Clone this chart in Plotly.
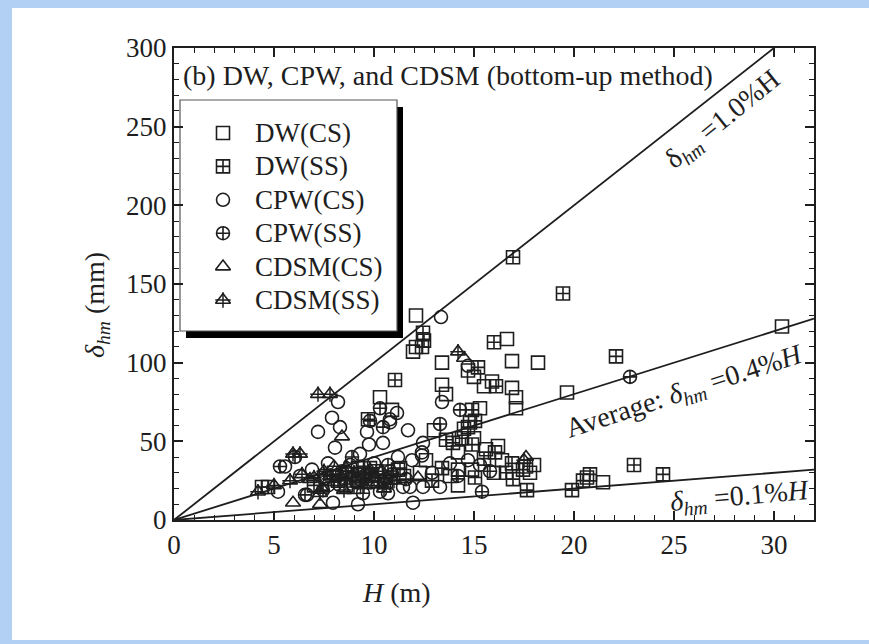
import plotly.graph_objects as go

# ---------------- data (H in m, delta_hm in mm) ----------------
dw_cs_H = [12.1, 11.95, 12.1, 13.4, 16.65, 16.9, 18.2, 13.4, 15.5, 16.9, 17.1, 17.1, 19.65, 15.3, 13.6,
           14.2, 14.2, 14.2, 14.9, 17.8, 21.45, 20.65, 30.4, 14.8, 15.6, 16.4, 15.0, 13.0, 12.6, 13.8,
           10.3, 10.9, 9.5, 10.2, 11.5, 12.3, 8.6, 16.0, 18.0, 17.6, 16.2, 14.5, 14.7, 15.0, 15.9,
           8.0, 9.2, 10.5, 11.2, 9.8]
dw_cs_d = [130, 107, 110, 100, 115, 101, 100, 86, 85, 84, 78, 71, 81, 71, 80,
           43, 32, 22, 32, 30, 24, 27, 123, 62, 45, 38, 52, 57, 38, 28,
           78, 70, 30, 25, 28, 30, 22, 30, 35, 34, 47, 58, 95, 91, 88,
           30, 25, 22, 32, 33]

dw_ss_H = [16.95, 19.45, 22.1, 23.0, 24.45, 19.9, 20.8, 20.45, 12.45, 12.4, 16.0, 11.05, 16.1, 15.2,
           14.9, 15.05, 14.7, 13.95, 16.05, 14.9, 16.9, 17.45, 16.95, 17.65, 15.05, 9.7, 4.4, 4.7,
           12.5, 13.6, 14.4, 15.5, 16.6, 11.3, 10.6, 9.9, 8.6, 7.6, 7.0, 12.9, 13.4, 9.2,
           8.2, 9.4, 10.1, 10.8, 9.0]
dw_ss_d = [167, 144, 104, 35, 29, 19, 29, 25, 119, 110, 113, 89, 85, 97,
           70, 63, 59, 49, 43, 48, 36, 32, 26, 19, 27, 64, 21, 21,
           114, 51, 52, 39, 30, 33, 24, 29, 27, 28, 22, 25, 33, 33,
           25, 27, 31, 27, 21]

cpw_cs_H = [13.35, 8.2, 7.9, 7.2, 8.3, 8.05, 9.65, 9.75, 11.15, 10.45, 10.8, 5.55, 5.2, 9.2, 10.7,
            6.65, 7.95, 11.7, 12.45, 11.2, 12.4, 11.8, 13.4, 12.4, 11.9, 14.7, 15.3, 12.45, 13.3,
            11.95, 11.45, 10.8, 14.7, 10.8, 9.3, 10.0, 8.7, 9.9, 6.3, 6.9, 7.7, 10.3, 12.9, 13.8,
            8.3, 9.5, 10.6, 7.5, 8.8]
cpw_cs_d = [129, 75, 65, 56, 59, 46, 56, 48, 68, 49, 62, 34, 18, 10, 17,
            16, 11, 57, 49, 40, 41, 21, 75, 43, 38, 38, 35, 21, 21,
            11, 21, 31, 98, 64, 42, 36, 30, 24, 28, 32, 36, 18, 30, 36,
            22, 30, 26, 26, 35]

cpw_ss_H = [22.8, 13.3, 15.4, 15.8, 14.3, 10.3, 8.9, 6.55, 7.45, 6.05, 9.8, 9.45, 10.45, 5.3,
            8.2, 9.1, 10.9, 7.7, 11.6, 14.2, 9.6, 8.4, 10.7]
cpw_ss_d = [91, 61, 18, 31, 70, 71, 40, 16, 19, 40, 63, 17, 59, 34,
            28, 24, 29, 22, 26, 28, 29, 31, 35]

cdsm_cs_H = [8.4, 14.5, 5.95, 7.3, 17.6, 8.0, 9.6, 10.4, 6.8, 12.2, 7.4]
cdsm_cs_d = [53, 103, 11, 10, 40, 34, 26, 31, 26, 27, 20]

cdsm_ss_H = [7.2, 7.8, 5.95, 4.2, 14.2, 17.5, 5.0, 5.8, 6.4, 7.0, 7.5, 8.0, 8.5, 9.0, 9.5, 10.0,
             10.5, 6.3, 11.0, 7.3, 8.9, 8.6, 9.8, 10.2, 7.8]
cdsm_ss_d = [80, 80, 42, 18, 107, 38, 22, 25, 29, 27, 31, 24, 19, 30, 22, 27,
             20, 42, 25, 17, 27, 33, 32, 24, 28]

# reference lines: delta_hm = ratio % of H  (H in m -> mm)
line_H = [0, 32]
ratios = [1.0, 0.4, 0.1]

x_ticks = [0, 5, 10, 15, 20, 25, 30]
y_ticks = [0, 50, 100, 150, 200, 250, 300]

legend_names = ["DW(CS)", "DW(SS)", "CPW(CS)", "CPW(SS)", "CDSM(CS)", "CDSM(SS)"]
legend_symbols = ["square-open", "square-cross-open", "circle-open", "circle-cross-open",
                  "triangle-up-open", "triangle-up-open"]
legend_rows = list(range(len(legend_names)))

INK = "#1e1e1e"
FONT = "Liberation Serif"
MS = 13

fig = go.Figure()

for r in ratios:
    fig.add_trace(go.Scatter(x=line_H, y=[h * 1000 * r / 100 for h in line_H], mode="lines",
                             line=dict(color=INK, width=1.8), showlegend=False, hoverinfo="skip"))

series = [
    (dw_cs_H, dw_cs_d), (dw_ss_H, dw_ss_d), (cpw_cs_H, cpw_cs_d),
    (cpw_ss_H, cpw_ss_d), (cdsm_cs_H, cdsm_cs_d), (cdsm_ss_H, cdsm_ss_d),
]
for (xs, ys), name, sym in zip(series, legend_names, legend_symbols):
    fig.add_trace(go.Scatter(x=xs, y=ys, mode="markers", name=name, showlegend=False,
                             marker=dict(symbol=sym, size=MS, color=INK,
                                         line=dict(color=INK, width=1.6))))
# plus sign inside the SS triangles
fig.add_trace(go.Scatter(x=cdsm_ss_H, y=cdsm_ss_d, mode="markers", showlegend=False,
                         marker=dict(symbol="cross-thin-open", size=11, color=INK,
                                     line=dict(color=INK, width=1.5))))

# legend keys on a small helper subplot
fig.add_trace(go.Scatter(x=[0.5] * len(legend_rows), y=legend_rows, mode="markers",
                         xaxis="x2", yaxis="y2", showlegend=False, hoverinfo="skip",
                         marker=dict(symbol=legend_symbols, size=MS, color=INK,
                                     line=dict(color=INK, width=1.6))))
fig.add_trace(go.Scatter(x=[0.5], y=[legend_rows[-1]], mode="markers",
                         xaxis="x2", yaxis="y2", showlegend=False, hoverinfo="skip",
                         marker=dict(symbol="cross-thin-open", size=11, color=INK,
                                     line=dict(color=INK, width=1.5))))


def px2paper_x(p):
    return (p - 174) / 640.0


def px2paper_y(p):
    return (520 - p) / 472.0


BLUE = "#b2cff4"
shapes = [
    # light-blue frame
    dict(type="rect", xref="paper", yref="paper", layer="below",
         x0=px2paper_x(-5), x1=px2paper_x(12), y0=px2paper_y(650), y1=px2paper_y(-5),
         fillcolor=BLUE, line=dict(width=0)),
    dict(type="rect", xref="paper", yref="paper", layer="below",
         x0=px2paper_x(-5), x1=px2paper_x(875), y0=px2paper_y(8), y1=px2paper_y(-5),
         fillcolor=BLUE, line=dict(width=0)),
    dict(type="rect", xref="paper", yref="paper", layer="below",
         x0=px2paper_x(-5), x1=px2paper_x(875), y0=px2paper_y(650), y1=px2paper_y(640),
         fillcolor=BLUE, line=dict(width=0)),
    # legend shadow
    dict(type="rect", xref="paper", yref="paper", layer="below",
         x0=px2paper_x(186), x1=px2paper_x(403), y0=px2paper_y(338), y1=px2paper_y(107),
         fillcolor="black", line=dict(width=0)),
    # legend box
    dict(type="rect", xref="paper", yref="paper", layer="below",
         x0=px2paper_x(180), x1=px2paper_x(397), y0=px2paper_y(331), y1=px2paper_y(100),
         fillcolor="white", line=dict(color="#555", width=1.2)),
]

annotations = [
    dict(text="(b) DW, CPW, and CDSM (bottom-up method)", xref="paper", yref="paper",
         x=px2paper_x(181), y=px2paper_y(76), xanchor="left", yanchor="middle", showarrow=False,
         font=dict(family=FONT, size=28, color=INK)),
    dict(text="δ<sub><i>hm</i></sub> =1.0%H", x=27.45, y=254, xref="x", yref="y",
         textangle=-39, showarrow=False, font=dict(family=FONT, size=28, color=INK)),
    dict(text="Average: <i>δ</i><sub><i>hm</i></sub> =0.4%<i>H</i>", x=25.55, y=81, xref="x", yref="y",
         textangle=-18, showarrow=False, font=dict(family=FONT, size=28, color=INK)),
    dict(text="<i>δ</i><sub><i>hm</i></sub> =0.1%<i>H</i>", x=28.3, y=14, xref="x", yref="y",
         textangle=-5, showarrow=False, font=dict(family=FONT, size=28, color=INK)),
    dict(text="<i>H</i> (m)", xref="paper", yref="paper", x=px2paper_x(396), y=px2paper_y(592),
         xanchor="center", yanchor="middle", showarrow=False,
         font=dict(family=FONT, size=28, color=INK)),
    dict(text="<i>δ</i><sub><i>hm</i></sub> (mm)", xref="paper", yref="paper",
         x=px2paper_x(96), y=px2paper_y(305), xanchor="center", yanchor="middle",
         textangle=-90, showarrow=False, font=dict(family=FONT, size=28, color=INK)),
]
for name, row in zip(legend_names, legend_rows):
    annotations.append(dict(text=name, xref="paper", yref="y2", x=px2paper_x(253), y=row,
                            xanchor="left", yanchor="middle", showarrow=False,
                            font=dict(family=FONT, size=27, color=INK)))

axis_common = dict(showgrid=False, zeroline=False, showline=True, linecolor=INK, linewidth=2,
                   mirror="ticks", ticks="inside", ticklen=9, tickwidth=1.5, tickcolor=INK,
                   tickfont=dict(family=FONT, size=27, color=INK))

row_top, row_step = 133.0, 33.4
y2_top = row_top - row_step / 2
y2_bot = row_top + row_step * (len(legend_rows) - 0.5)

fig.update_layout(
    width=869, height=644,
    margin=dict(l=174, r=55, t=48, b=124),
    paper_bgcolor="white",
    plot_bgcolor="white",
    xaxis=dict(range=[0, 32], tickvals=x_ticks, ticktext=[str(v) for v in x_ticks],
               minor=dict(ticks="inside", dtick=1, ticklen=5, tickcolor=INK, tickwidth=1.2),
               **axis_common),
    yaxis=dict(range=[0, 300], tickvals=y_ticks, ticktext=[str(v) for v in y_ticks],
               minor=dict(ticks="inside", dtick=10, ticklen=5, tickcolor=INK, tickwidth=1.2),
               **axis_common),
    xaxis2=dict(domain=[px2paper_x(208), px2paper_x(238)], range=[0, 1], visible=False,
                anchor="y2", fixedrange=True),
    yaxis2=dict(domain=[px2paper_y(y2_bot), px2paper_y(y2_top)],
                range=[len(legend_rows) - 0.5, -0.5], visible=False, anchor="x2", fixedrange=True),
    showlegend=False,
    shapes=shapes,
    annotations=annotations,
)

fig.write_html("out.html")
